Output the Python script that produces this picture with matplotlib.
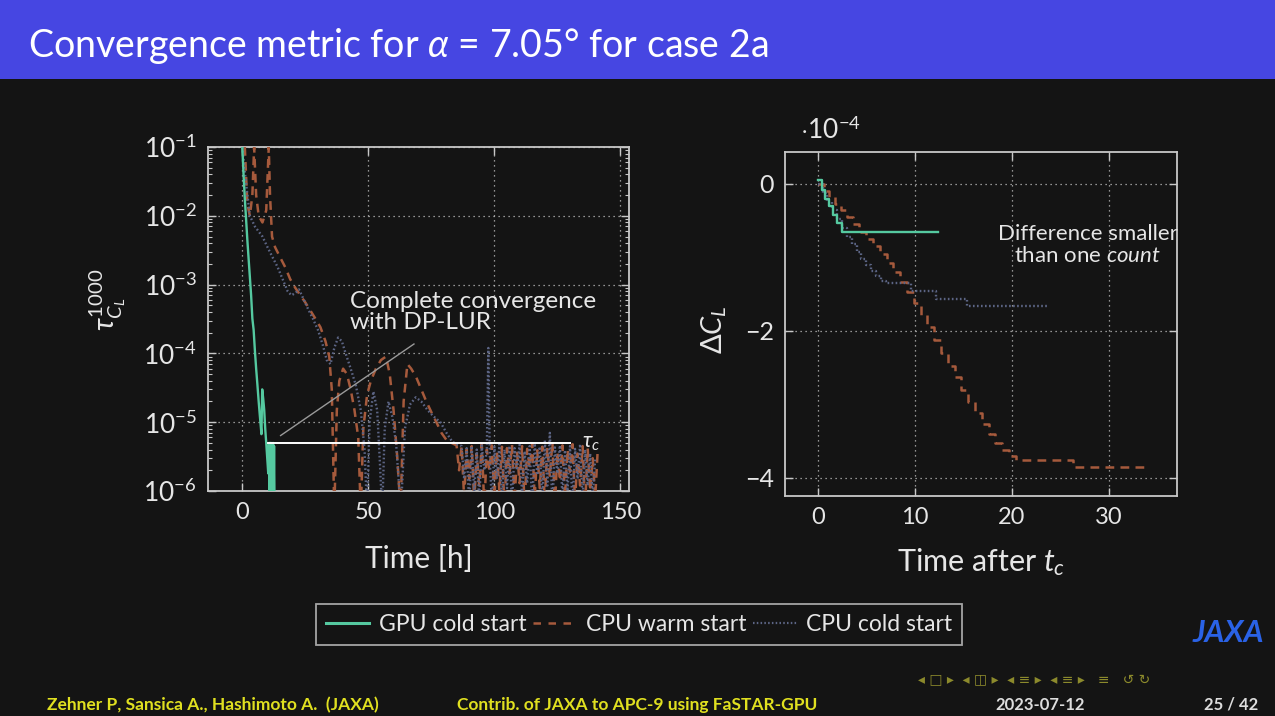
import matplotlib
matplotlib.use("Agg")
import matplotlib.pyplot as plt
from matplotlib.patches import Rectangle
from matplotlib.ticker import LogLocator, NullFormatter, FixedLocator

plt.rcParams['font.family'] = ['Lato', 'DejaVu Sans']
plt.rcParams['mathtext.fontset'] = 'custom'
plt.rcParams['mathtext.rm'] = 'Lato'
plt.rcParams['mathtext.it'] = 'Lato:italic'
plt.rcParams['mathtext.bf'] = 'Lato:bold'

# ---------------- data ----------------
series_names = ["GPU cold start", "CPU warm start", "CPU cold start"]

# left panel: tau_{C_L}^{1000} vs time [h]
gpu_t = [0, 0.5, 1.0, 1.5, 2.0, 2.5, 3.0, 3.5, 4.0, 4.5, 5.0, 5.5, 6.0, 6.5, 7.0, 7.3, 7.6,
         7.9, 8.3, 8.7, 9.1, 9.5, 9.9, 10.3, 10.6, 10.8, 11.0, 11.2, 11.4, 11.6, 11.8, 12.0,
         12.2, 12.4, 12.6, 12.8, 13.0]
gpu_tau = [1e-1, 4e-2, 1.8e-2, 9e-3, 4.5e-3, 2.4e-3, 1.3e-3, 7e-4, 3.2e-4, 2.2e-4, 1.1e-4,
           6e-5, 3.5e-5, 2e-5, 1.2e-5, 9e-6, 6.7e-6, 3e-5, 2.2e-5, 1.5e-5, 8e-6, 5e-6, 3e-6,
           1.8e-6, 5e-6, 6e-7, 5e-6, 6e-7, 5e-6, 6e-7, 4.5e-6, 6e-7, 5e-6, 6e-7, 4.5e-6, 6e-7, 6e-7]

warm_t = [1.0, 2.0, 3.0, 4.0, 4.7, 5.5, 6.5, 8.0, 9.5, 10.5, 11.0, 11.8, 13, 15, 17, 19, 21,
          23, 25, 27, 29, 31, 33, 34.5, 35.5, 36.5, 37.5, 38.5, 40, 41.5, 43, 44.5, 46, 47,
          48, 49.5, 51, 53, 55, 57, 58.5, 60, 61.5, 62.8, 64, 65.5, 67, 69, 71, 73, 75, 77,
          79, 81, 83, 85,
          86, 87, 88, 89, 90, 91, 92, 93, 94, 95, 96, 97, 98, 99, 100, 101, 102, 103, 104,
          105, 106, 107, 108, 109, 110, 111, 112, 113, 114, 115, 116, 117, 118, 119, 120,
          121, 122, 123, 124, 125, 126, 127, 128, 129, 130, 131, 132, 133, 134, 135, 136,
          137, 138, 139, 140, 141]
warm_tau = [1e-1, 1.5e-2, 1e-2, 2e-2, 1e-1, 2e-2, 1e-2, 8e-3, 1.2e-2, 1e-1, 2e-2, 5e-3,
            3.5e-3, 2.5e-3, 1.8e-3, 1.2e-3, 9e-4, 7e-4, 5.5e-4, 4.2e-4, 3.2e-4, 2.4e-4,
            1.5e-4, 9e-5, 3e-5, 5e-7, 1.5e-5, 4e-5, 6e-5, 5e-5, 3e-5, 1.5e-5, 6e-6, 5e-7,
            8e-6, 2.5e-5, 4e-5, 6e-5, 8e-5, 9e-5, 5e-5, 1.5e-5, 3e-6, 5e-7, 2e-5, 7e-5, 6e-5,
            4.5e-5, 3e-5, 2e-5, 1.4e-5, 1e-5, 7e-6, 5.5e-6, 5e-6, 4.6e-6,
            2e-6, 4.5e-6, 8e-7, 4e-6, 1.5e-6, 4.5e-6, 7e-7, 3.5e-6, 1.2e-6, 4.8e-6, 6e-7,
            4e-6, 2e-6, 4.6e-6, 8e-7, 3.8e-6, 1e-6, 4.4e-6, 6e-7, 4.2e-6, 1.8e-6, 4.7e-6,
            7e-7, 3.6e-6, 1.3e-6, 4.5e-6, 6e-7, 4.1e-6, 2.2e-6, 4.9e-6, 8e-7, 3.9e-6, 1.1e-6,
            4.4e-6, 7e-7, 4.3e-6, 1.6e-6, 5.2e-6, 6e-7, 3.7e-6, 1.4e-6, 4.6e-6, 8e-7, 4e-6,
            1.9e-6, 4.8e-6, 7e-7, 3.5e-6, 1.2e-6, 4.5e-6, 6e-7, 4.2e-6, 1e-6, 3e-6, 8e-7,
            4e-6]

cold_t = [0, 1.5, 3, 5, 8, 10, 12, 14, 16, 18, 19.5, 21, 22.5, 24, 26, 28, 30, 32, 33.5, 35,
          36.5, 38, 39.5, 41, 43, 45, 47, 48.5, 49.5, 50.5, 52, 53.5, 54.5, 55.5, 56.5, 58,
          59.5, 61, 62.9, 64.5, 66.5, 68.8, 71, 73.5, 76, 78.6, 81, 83.3, 85, 87,
          88, 89, 90, 91, 92, 93, 94, 95, 96, 97, 97.6, 98.2, 99, 100, 101, 102, 103, 104,
          105, 106, 107, 108, 109, 110, 111, 112, 113, 114, 115, 116, 117, 118, 119, 120,
          121, 122, 123, 124, 125, 126, 127, 128, 129, 130, 131, 132, 133, 134, 135, 136,
          137, 138, 139, 140]
cold_tau = [1e-1, 3e-2, 1e-2, 7e-3, 5e-3, 3.5e-3, 2.5e-3, 1.8e-3, 1.2e-3, 8e-4, 7e-4,
            7.5e-4, 8.5e-4, 6.5e-4, 4.5e-4, 3.2e-4, 2.2e-4, 1.3e-4, 8e-5, 7e-5, 1.2e-4,
            1.7e-4, 1.5e-4, 1e-4, 6e-5, 3.5e-5, 1.5e-5, 4e-6, 5e-7, 1e-5, 2.8e-5, 1.5e-5,
            3e-6, 5e-7, 8e-6, 2e-5, 1.2e-5, 5e-6, 5e-7, 8e-6, 1.8e-5, 2.3e-5, 2e-5, 1.5e-5,
            1.2e-5, 1e-5, 7e-6, 5.2e-6, 4.8e-6, 4.5e-6,
            1.5e-6, 4.2e-6, 6e-7, 4.5e-6, 1e-6, 4e-6, 7e-7, 4.6e-6, 2e-6, 4e-6, 1.2e-4,
            3e-6, 6e-7, 4.4e-6, 1.5e-6, 4.8e-6, 7e-7, 4e-6, 1.1e-6, 4.5e-6, 6e-7, 4.2e-6,
            2e-6, 4.7e-6, 8e-7, 3.8e-6, 1.3e-6, 4.5e-6, 6e-7, 4.9e-6, 1.7e-6, 4.4e-6, 7e-7,
            5.5e-6, 1.2e-6, 7e-6, 6e-7, 4.3e-6, 1.8e-6, 4.6e-6, 8e-7, 3.9e-6, 1e-6, 4.5e-6,
            6e-7, 4.1e-6, 1.5e-6, 4.8e-6, 7e-7, 4e-6, 1.2e-6, 3.5e-6, 8e-7, 3e-6]

tau_c = 5e-6
tau_c_t = [10.3, 130.0]

# right panel: Delta C_L (x 1e-4) vs time after t_c
gpu_dt = [0, 0.4, 0.8, 1.2, 1.6, 2.0, 2.5, 12.4]
gpu_dcl = [0.05, -0.08, -0.2, -0.3, -0.42, -0.53, -0.66, -0.66]

warm_dt = [0, 0.6, 1.2, 1.8, 2.4, 3.0, 3.6, 4.3, 5.0, 5.7, 6.4, 7.1, 7.8, 8.5, 9.2, 9.9,
           10.6, 11.3, 12.0, 12.7, 13.4, 14.1, 14.8, 15.5, 16.2, 16.9, 17.6, 18.3, 19.0,
           19.7, 20.4, 26.3, 33.6]
warm_dcl = [0.0, -0.1, -0.18, -0.27, -0.36, -0.45, -0.55, -0.65, -0.75, -0.85, -0.95,
            -1.07, -1.2, -1.33, -1.47, -1.62, -1.78, -1.95, -2.12, -2.3, -2.47, -2.63,
            -2.8, -2.97, -3.12, -3.27, -3.4, -3.52, -3.62, -3.7, -3.75, -3.85, -3.85]

cold_dt = [0, 0.5, 1.0, 1.5, 2.0, 2.5, 3.0, 3.5, 4.0, 4.5, 5.0, 5.5, 6.0, 6.5, 7.0, 9.6,
           12.2, 15.4, 23.8]
cold_dcl = [0.0, -0.12, -0.24, -0.36, -0.48, -0.6, -0.72, -0.82, -0.92, -1.02, -1.1,
            -1.18, -1.25, -1.32, -1.35, -1.46, -1.56, -1.66, -1.66]

left_xticks = [0, 50, 100, 150]
right_xticks = [0, 10, 20, 30]
right_yticks = [0, -2, -4]

# ---------------- style ----------------
BG = '#141414'
FG = '#e6e6e6'
GREEN = '#55c9a0'
BROWN = '#a65a3c'
SLATE = '#5c6585'
SPINE = '#c8c8c8'

W, H = 1275, 716
fig = plt.figure(figsize=(W / 100, H / 100), dpi=100, facecolor=BG)

def fx(px):
    return px / W

def fy(py):
    return 1 - py / H

# title bar
fig.patches.append(Rectangle((0, fy(79)), 1, 1 - fy(79), transform=fig.transFigure,
                             facecolor='#4646e2', edgecolor='none', zorder=0))
fig.text(fx(28), fy(46), r'Convergence metric for $\alpha$ = 7.05° for case 2a',
         color='white', fontsize=27, va='center', ha='left')

def style_axes(ax, ylabelsize):
    ax.set_facecolor(BG)
    for s in ax.spines.values():
        s.set_color(SPINE)
        s.set_linewidth(1.3)
    ax.tick_params(which='both', direction='in', colors=SPINE, top=True, right=True,
                   labelcolor=FG)
    ax.tick_params(axis='x', labelsize=17)
    ax.tick_params(axis='y', labelsize=ylabelsize)
    ax.tick_params(which='major', length=6, width=1.0, pad=8)
    ax.tick_params(which='minor', length=3, width=0.8)
    ax.grid(True, which='major', color='#bdbdbd', linestyle=(0, (1, 3)), linewidth=0.9)

# left axes
axL = fig.add_axes([fx(208), fy(491), fx(629) - fx(208), fy(147) - fy(491)])
style_axes(axL, 19)
axL.set_yscale('log')
axL.set_xlim(-13.6, 153.4)
axL.set_ylim(1e-6, 1e-1)
axL.xaxis.set_major_locator(FixedLocator(left_xticks))
axL.yaxis.set_major_locator(LogLocator(base=10, numticks=10))
axL.yaxis.set_minor_locator(LogLocator(base=10, subs=range(2, 10), numticks=20))
axL.yaxis.set_minor_formatter(NullFormatter())
axL.tick_params(axis='x', which='minor', top=False, bottom=False)

axL.plot(warm_t, warm_tau, color=BROWN, lw=1.8, dashes=(3.5, 2.5), zorder=3)
axL.plot(cold_t, cold_tau, color=SLATE, lw=1.7, linestyle=(0, (0.7, 1.0)), zorder=3)
axL.plot(gpu_t, gpu_tau, color=GREEN, lw=1.7, zorder=4)
axL.plot(tau_c_t, [tau_c, tau_c], color='white', lw=1.4, zorder=5)
axL.text(134.8, tau_c, r'$\tau_c$', color=FG, fontsize=16, ha='left', va='center')
axL.plot([15.2, 68.1], [6.4e-6, 1.37e-4], color='#9a9a9a', lw=1.0, zorder=5)
axL.text(42.6, 4.0e-4, 'Complete convergence\nwith DP-LUR', color=FG, fontsize=17.5,
         ha='left', va='center', linespacing=1.05)
axL.set_xlabel('Time [h]', color=FG, fontsize=21.5, labelpad=16)
fig.text(fx(108), fy(300), r'$\tau_{C_L}^{1000}$', rotation=90, color=FG, fontsize=21,
         ha='center', va='center')

# right axes
axR = fig.add_axes([fx(785), fy(496), fx(1177) - fx(785), fy(152) - fy(496)])
style_axes(axR, 18)
axR.set_xlim(-3.37, 37.0)
axR.set_ylim(-4.245, 0.435)
axR.xaxis.set_major_locator(FixedLocator(right_xticks))
axR.yaxis.set_major_locator(FixedLocator(right_yticks))
axR.set_yticklabels(['0', '\u22122', '\u22124'])

axR.plot(warm_dt, warm_dcl, color=BROWN, lw=1.8, dashes=(3.5, 2.5), drawstyle='steps-post', zorder=3)
axR.plot(cold_dt, cold_dcl, color=SLATE, lw=1.7, linestyle=(0, (0.7, 1.0)), drawstyle='steps-post', zorder=3)
axR.plot(gpu_dt, gpu_dcl, color=GREEN, lw=1.7, drawstyle='steps-post', zorder=4)
axR.text(27.8, -0.83, 'Difference smaller\nthan one $\\it{count}$', color=FG, fontsize=16,
         ha='center', va='center', multialignment='center', linespacing=1.1)
axR.set_xlabel(r'Time after $t_c$', color=FG, fontsize=22, labelpad=13)
fig.text(fx(714), fy(330), r'$\Delta C_L$', rotation=90, color=FG, fontsize=21,
         ha='center', va='center')
fig.text(fx(800), fy(130), r'$\cdot 10^{-4}$', color=FG, fontsize=19, ha='left', va='center')

# legend
handles = [plt.Line2D([], [], color=GREEN, lw=2.2),
           plt.Line2D([], [], color=BROWN, lw=1.8, dashes=(3.0, 3.0)),
           plt.Line2D([], [], color=SLATE, lw=1.6, linestyle=(0, (0.7, 1.0)))]
leg = fig.legend(handles, series_names, loc='center', bbox_to_anchor=(fx(639), fy(624.5)),
                 ncol=3, frameon=True, fancybox=False, fontsize=16.5, handlelength=1.9,
                 columnspacing=0.3, handletextpad=0.4, borderpad=0.45, labelcolor=FG)
leg.get_frame().set_facecolor(BG)
leg.get_frame().set_edgecolor(SPINE)
leg.get_frame().set_linewidth(1.3)

# footer
YEL = '#e0e020'
fig.text(fx(47), fy(705), 'Zehner P, Sansica A., Hashimoto A.  (JAXA)', color=YEL,
         fontsize=12.5, ha='left', va='center', fontweight='bold')
fig.text(fx(457), fy(705), 'Contrib. of JAXA to APC-9 using FaSTAR-GPU', color=YEL,
         fontsize=12.5, ha='left', va='center', fontweight='bold')
fig.text(fx(995), fy(705), '2023-07-12', color='#dddddd', fontsize=12, ha='left',
         va='center', fontweight='bold')
fig.text(fx(1258), fy(705), '25 / 42', color='#dddddd', fontsize=12, ha='right',
         va='center', fontweight='bold')
fig.text(fx(918), fy(679), '\u25c2 \u25a1 \u25b8  \u25c2 \u25eb \u25b8  \u25c2 \u2261 \u25b8  \u25c2 \u2261 \u25b8   \u2261   \u21ba \u21bb',
         color='#8c8a2c', fontsize=10, ha='left', va='center', family='DejaVu Sans')
fig.text(fx(1228), fy(633), 'JAXA', color='#2a62e6', fontsize=22, ha='center',
         va='center', fontweight='bold', style='italic')

fig.savefig('out.png', dpi=100, facecolor=BG)
